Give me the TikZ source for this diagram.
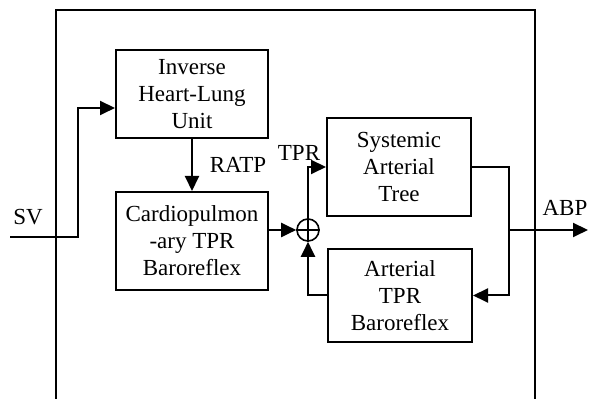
\documentclass[tikz,border=0pt]{standalone}
\usepackage{fontspec}
\setmainfont{Liberation Serif}
\usepackage{tikz}
\usetikzlibrary{arrows.meta}

\begin{document}
\begin{tikzpicture}[x=0.5pt,y=-0.5pt,line width=1pt,
    font=\fontsize{11.5}{13.5}\selectfont,
    block/.style={draw,rectangle,align=center,inner sep=0pt},
    sumnode/.style={draw,circle,minimum size=11pt,inner sep=0pt,line width=0.8pt},
    arr/.style={-{Triangle[length=7.5pt,width=7pt]}},
    lbl/.style={inner sep=0pt}]
  \useasboundingbox (0,0) rectangle (589,399);

  % outer frame, open at the bottom
  \draw (56,399) -- (56,10) -- (535,10) -- (535,399);

  % blocks
  \node[block,minimum width=76pt,minimum height=44pt] (ihl) at (192,94) {Inverse\\Heart-Lung\\Unit};
  \node[block,minimum width=76pt,minimum height=49pt] (cp) at (192,241) {Cardiopulmon\\-ary TPR\\Baroreflex};
  \node[block,minimum width=72pt,minimum height=49pt] (sat) at (399,167) {Systemic\\Arterial\\Tree};
  \node[block,minimum width=72pt,minimum height=46.5pt] (atb) at (400,295.5) {Arterial\\TPR\\Baroreflex};
  \node[sumnode] (sum) at (308,230) {};
  \draw[line width=0.8pt] (sum.north) -- (sum.south) (sum.west) -- (sum.east);

  % connectors
  \coordinate (sv) at (10,237);
  \coordinate (bend) at (78,108);
  \coordinate (split) at (509,230);
  \coordinate (abp) at (588,230);
  \draw[arr] (sv) -| (bend) -- (bend -| ihl.west);
  \draw[arr] (ihl) -- (cp);
  \draw[arr] (cp.east |- sum.west) -- (sum.west);
  \draw[arr] (sum.north) |- (sat.west);
  \draw (sat.east) -| (split);
  \draw[arr] (split) |- (atb.east);
  \draw[arr] (atb.west) -| (sum.south);
  \draw[arr] (split) -- (abp);

  % labels
  \node[lbl] (svlbl) at (28,217) {SV};
  \node[lbl] (ratp) at (238,165) {RATP};
  \node[lbl] (tpr) at (299,153) {TPR};
  \node[lbl] (abplbl) at (565,208) {ABP};
\end{tikzpicture}
\end{document}
